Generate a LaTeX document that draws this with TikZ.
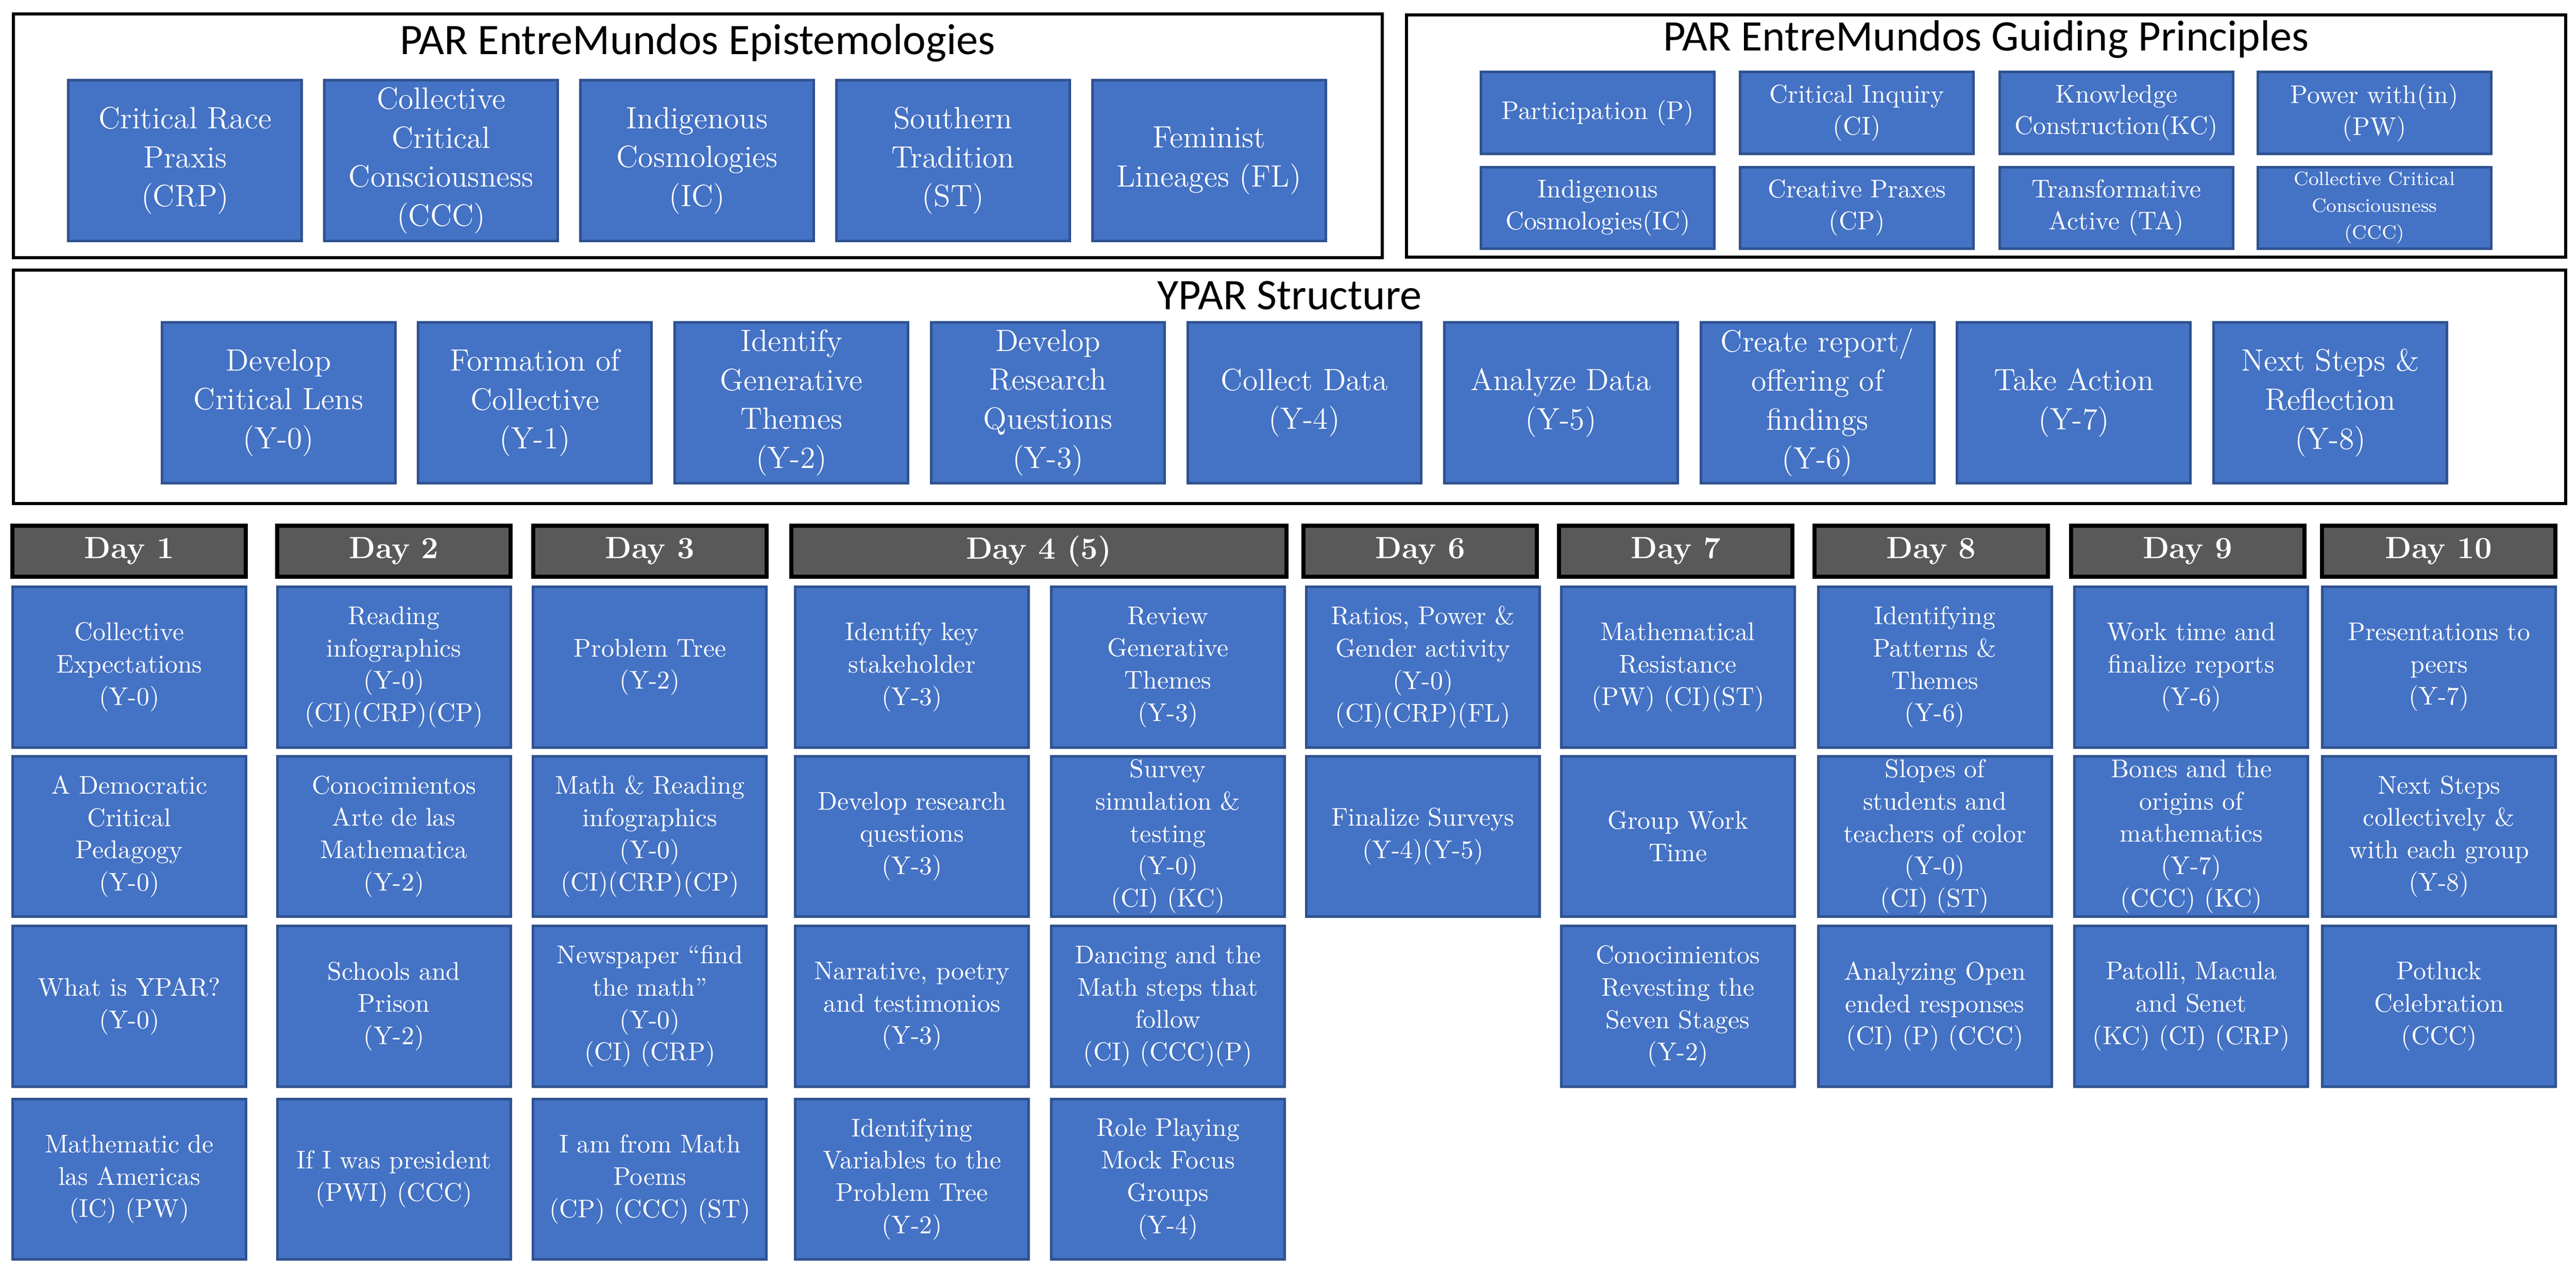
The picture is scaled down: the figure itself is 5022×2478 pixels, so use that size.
\documentclass[tikz,border=0pt]{standalone}
\usepackage{fontspec}
\newfontfamily\titlefont{Carlito}
\usepackage{xcolor}
\definecolor{boxblue}{RGB}{68,114,196}
\definecolor{boxedge}{RGB}{47,82,143}
\definecolor{dayhead}{RGB}{89,89,89}
\begin{document}
\begin{tikzpicture}[x=0.2pt,y=-0.2pt,
  frame/.style={draw=black,line width=1.2pt},
  ttl/.style={font=\titlefont\fontsize{17}{20}\selectfont},
  blk/.style={fill=boxblue,draw=boxedge,line width=1pt,text=white,align=center,
    inner sep=1pt,minimum width=91pt,minimum height=62.6pt,
    font=\fontsize{12}{15.2}\selectfont},
  pbox/.style={blk,minimum height=31.8pt,font=\fontsize{10}{12.4}\selectfont},
  dbox/.style={blk,font=\fontsize{10}{12.6}\selectfont},
  dhead/.style={fill=dayhead,draw=black,line width=1.6pt,text=white,
    minimum width=91pt,minimum height=20pt,inner sep=0pt,
    font=\bfseries\fontsize{12}{14}\selectfont}]
\useasboundingbox (0,0) rectangle (5022,2478);

%Shape: Rectangle
\draw [frame] (26,27) rectangle (2695,502);
\draw [frame] (2742,29) rectangle (5002,501);
\draw [frame] (26,526) rectangle (5002,981);

% Text Node
\node [ttl] (epist) at (1360,84) {PAR EntreMundos Epistemologies};
\node [ttl] (guide) at (3872,77) {PAR EntreMundos Guiding Principles};
\node [ttl] (ypar) at (2514,576) {YPAR Structure};

% Epistemologies
\node [blk] (crp) at (361,313) {Critical Race\\Praxis\\(CRP)};
\node [blk] (ccc) at (860,313) {Collective\\Critical\\Consciousness\\(CCC)};
\node [blk] (ic) at (1359,313) {Indigenous\\Cosmologies\\(IC)};
\node [blk] (st) at (1858,313) {Southern\\Tradition\\(ST)};
\node [blk] (fl) at (2357,313) {Feminist\\Lineages (FL)};

% Guiding Principles
\node [pbox] (pp) at (3115,220) {Participation (P)};
\node [pbox] (pci) at (3620,220) {Critical Inquiry\\(CI)};
\node [pbox] (pkc) at (4126,220) {Knowledge\\Construction(KC)};
\node [pbox] (ppw) at (4629,220) {Power with(in)\\(PW)};
\node [pbox] (pic) at (3115,405) {Indigenous\\Cosmologies(IC)};
\node [pbox] (pcp) at (3620,405) {Creative Praxes\\(CP)};
\node [pbox] (pta) at (4126,405) {Transformative\\Active (TA)};
\node [pbox,font=\fontsize{7.5}{10.4}\selectfont] (pccc) at (4629,405) {Collective Critical\\Consciousness\\(CCC)};

% YPAR Structure
\node [blk] (y0) at (543,785) {Develop\\Critical Lens\\(Y-0)};
\node [blk] (y1) at (1043,785) {Formation of\\Collective\\(Y-1)};
\node [blk] (y2) at (1543,785) {Identify\\Generative\\Themes\\(Y-2)};
\node [blk] (y3) at (2043,785) {Develop\\Research\\Questions\\(Y-3)};
\node [blk] (y4) at (2543,785) {Collect Data\\(Y-4)};
\node [blk] (y5) at (3043,785) {Analyze Data\\(Y-5)};
\node [blk] (y6) at (3543,785) {Create report/\\offering of\\findings\\(Y-6)};
\node [blk] (y7) at (4043,785) {Take Action\\(Y-7)};
\node [blk] (y8) at (4543,785) {Next Steps \&\\Reflection\\(Y-8)};

% Day headers
\node [dhead] (d1) at (252,1074) {Day 1};
\node [dhead] (d2) at (768,1074) {Day 2};
\node [dhead] (d3) at (1267,1074) {Day 3};
\node [dhead,minimum width=193pt] (d4) at (2025,1074) {Day 4 (5)};
\node [dhead] (d6) at (2769,1074) {Day 6};
\node [dhead] (d7) at (3267,1074) {Day 7};
\node [dhead] (d8) at (3765,1074) {Day 8};
\node [dhead] (d9) at (4265,1074) {Day 9};
\node [dhead] (d10) at (4754,1074) {Day 10};

% Day 1
\node [dbox] (a1) at (252,1300) {Collective\\Expectations\\(Y-0)};
\node [dbox] (a2) at (252,1630) {A Democratic\\Critical\\Pedagogy\\(Y-0)};
\node [dbox] (a3) at (252,1961) {What is YPAR?\\(Y-0)};
\node [dbox] (a4) at (252,2298) {Mathematic de\\las Americas\\(IC) (PW)};
% Day 2
\node [dbox] (b1) at (768,1300) {Reading\\infographics\\(Y-0)\\(CI)(CRP)(CP)};
\node [dbox] (b2) at (768,1630) {Conocimientos\\Arte de las\\Mathematica\\(Y-2)};
\node [dbox] (b3) at (768,1961) {Schools and\\Prison\\(Y-2)};
\node [dbox] (b4) at (768,2298) {If I was president\\(PWI) (CCC)};
% Day 3
\node [dbox] (c1) at (1267,1300) {Problem Tree\\(Y-2)};
\node [dbox] (c2) at (1267,1630) {Math \& Reading\\infographics\\(Y-0)\\(CI)(CRP)(CP)};
\node [dbox] (c3) at (1267,1961) {Newspaper “find\\the math”\\(Y-0)\\(CI) (CRP)};
\node [dbox] (c4) at (1267,2298) {I am from Math\\Poems\\(CP) (CCC) (ST)};
% Day 4 (5)
\node [dbox] (e1) at (1778,1300) {Identify key\\stakeholder\\(Y-3)};
\node [dbox] (e2) at (1778,1630) {Develop research\\questions\\(Y-3)};
\node [dbox] (e3) at (1778,1961) {Narrative, poetry\\and testimonios\\(Y-3)};
\node [dbox] (e4) at (1778,2298) {Identifying\\Variables to the\\Problem Tree\\(Y-2)};
\node [dbox] (f1) at (2277,1300) {Review\\Generative\\Themes\\(Y-3)};
\node [dbox] (f2) at (2277,1630) {Survey\\simulation \&\\testing\\(Y-0)\\(CI) (KC)};
\node [dbox] (f3) at (2277,1961) {Dancing and the\\Math steps that\\follow\\(CI) (CCC)(P)};
\node [dbox] (f4) at (2277,2298) {Role Playing\\Mock Focus\\Groups\\(Y-4)};
% Day 6
\node [dbox] (g1) at (2774,1300) {Ratios, Power \&\\Gender activity\\(Y-0)\\(CI)(CRP)(FL)};
\node [dbox] (g2) at (2774,1630) {Finalize Surveys\\(Y-4)(Y-5)};
% Day 7
\node [dbox] (h1) at (3271,1300) {Mathematical\\Resistance\\(PW) (CI)(ST)};
\node [dbox] (h2) at (3271,1630) {Group Work\\Time};
\node [dbox] (h3) at (3271,1961) {Conocimientos\\Revesting the\\Seven Stages\\(Y-2)};
% Day 8
\node [dbox] (i1) at (3772,1300) {Identifying\\Patterns \&\\Themes\\(Y-6)};
\node [dbox] (i2) at (3772,1630) {Slopes of\\students and\\teachers of color\\(Y-0)\\(CI) (ST)};
\node [dbox] (i3) at (3772,1961) {Analyzing Open\\ended responses\\(CI) (P) (CCC)};
% Day 9
\node [dbox] (j1) at (4272,1300) {Work time and\\finalize reports\\(Y-6)};
\node [dbox] (j2) at (4272,1630) {Bones and the\\origins of\\mathematics\\(Y-7)\\(CCC) (KC)};
\node [dbox] (j3) at (4272,1961) {Patolli, Macula\\and Senet\\(KC) (CI) (CRP)};
% Day 10
\node [dbox] (k1) at (4755,1300) {Presentations to\\peers\\(Y-7)};
\node [dbox] (k2) at (4755,1630) {Next Steps\\collectively \&\\with each group\\(Y-8)};
\node [dbox] (k3) at (4755,1961) {Potluck\\Celebration\\(CCC)};

\end{tikzpicture}
\end{document}
